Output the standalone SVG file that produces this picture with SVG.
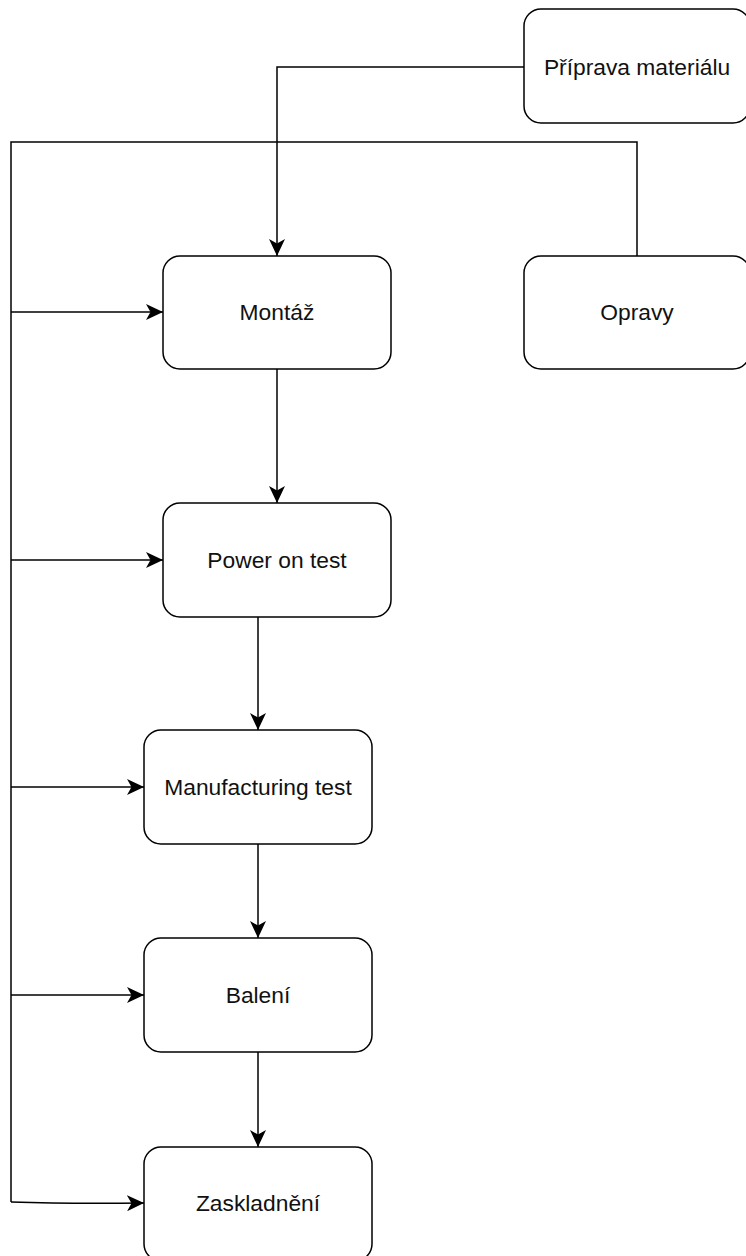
<svg xmlns="http://www.w3.org/2000/svg" width="746" height="1256" viewBox="0 0 746 1256">
<style>
.n rect{fill:#fff;stroke:#000;stroke-width:1.5}
.n text{font-family:"Liberation Sans",Arial,sans-serif;font-size:22.8px;fill:#111;text-anchor:middle;dominant-baseline:central}
.c path{fill:none;stroke:#000;stroke-width:1.5}
</style>
<defs>
<marker id="a" markerUnits="userSpaceOnUse" viewBox="0 0 17 16" refX="17" refY="8" markerWidth="17" markerHeight="16" orient="auto">
<path d="M0,0 L17,8 L0,16 L4.5,8 Z" fill="#000"/>
</marker>
</defs>
<g class="c" id="connectors">
<path d="M524,67 H277 V256" marker-end="url(#a)"/>
<path d="M637,256 V142 H11 V1202"/>
<path d="M11,312 H163" marker-end="url(#a)"/>
<path d="M11,560 H163" marker-end="url(#a)"/>
<path d="M11,787 H144" marker-end="url(#a)"/>
<path d="M11,995 H144" marker-end="url(#a)"/>
<path d="M11,1202 Q70,1204 144,1203" marker-end="url(#a)"/>
<path d="M277,369 V503" marker-end="url(#a)"/>
<path d="M258,617 V730" marker-end="url(#a)"/>
<path d="M258,844 V938" marker-end="url(#a)"/>
<path d="M258,1052 V1147" marker-end="url(#a)"/>
</g>
<g class="n" id="priprava"><rect x="524" y="9" width="226" height="114" rx="17"/><text x="637" y="67">Příprava materiálu</text></g>
<g class="n" id="opravy"><rect x="524" y="256" width="226" height="113" rx="17"/><text x="637" y="312">Opravy</text></g>
<g class="n" id="montaz"><rect x="163" y="256" width="228" height="113" rx="17"/><text x="277" y="312">Montáž</text></g>
<g class="n" id="power"><rect x="163" y="503" width="228" height="114" rx="17"/><text x="277" y="560">Power on test</text></g>
<g class="n" id="manufacturing"><rect x="144" y="730" width="228" height="114" rx="17"/><text x="258" y="787">Manufacturing test</text></g>
<g class="n" id="baleni"><rect x="144" y="938" width="228" height="114" rx="17"/><text x="258" y="995">Balení</text></g>
<g class="n" id="zaskladneni"><rect x="144" y="1147" width="228" height="114" rx="17"/><text x="258" y="1203">Zaskladnění</text></g>
</svg>
